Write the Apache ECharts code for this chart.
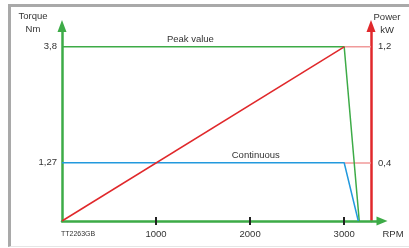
<!DOCTYPE html>
<html>
<head>
<meta charset="utf-8">
<script src="https://cdn.jsdelivr.net/npm/echarts@6/dist/echarts.min.js"></script>
<style>
html,body{margin:0;padding:0;background:#fff;}
#frame{position:absolute;left:8px;top:4px;width:401px;height:243px;border-left:3px solid #a9a9a9;border-top:3px solid #a9a9a9;border-bottom:1px solid #e6e6e6;box-sizing:border-box;}
#c{position:absolute;left:0;top:0;width:409px;height:248px;}
</style>
</head>
<body>
<div id="frame"></div>
<div id="c"></div>
<script>
// Data
const rpmTicks = [1000, 2000, 3000];
const torqueTicks = [1.27, 3.8];
const powerTicks = [0.4, 1.2];
const peakTorque = [[0, 3.8], [3000, 3.8], [3160, 0]];
const contTorque = [[0, 1.27], [3000, 1.27], [3150, 0]];
const powerLine = [[0, 0], [3000, 1.2]];
const powerRefPeak = [[3000, 1.2], [3285, 1.2]];
const powerRefCont = [[3000, 0.4], [3285, 0.4]];
const powerAxisRpm = 3285;

const GREEN = '#3dab47', RED = '#e0282b', BLUE = '#2299dd', PINK = '#f09a9a', TXT = '#333';
const FONT = 'Liberation Sans, Arial, sans-serif';

const chart = echarts.init(document.getElementById('c'), null, {renderer: 'canvas'});
const xMax = 3402;
const gridRight = 27;
const gridLeft = 62;
const plotW = 409 - gridLeft - gridRight;
const powerOffset = -Math.round((xMax - powerAxisRpm) / xMax * plotW);

const comma = v => String(v).replace('.', ',');

chart.setOption({
  animation: false,
  backgroundColor: 'transparent',
  grid: {left: gridLeft, right: gridRight, top: 26, bottom: 27, containLabel: false},
  xAxis: [{
    type: 'value', min: 0, max: xMax,
    splitLine: {show: false},
    axisLine: {show: true, onZero: false, lineStyle: {color: GREEN, width: 2.5},
      symbol: ['none', 'triangle'], symbolSize: [9, 11]},
    axisTick: {show: true, customValues: rpmTicks, length: 4, lineStyle: {color: '#222', width: 2}},
    axisLabel: {show: true, customValues: rpmTicks, margin: 8, fontSize: 9.5, color: TXT, fontFamily: FONT,
      formatter: v => String(v)}
  }, {
    type: 'value', min: 0, max: xMax, position: 'bottom',
    splitLine: {show: false},
    axisLine: {show: false},
    axisTick: {show: true, inside: true, customValues: rpmTicks, length: 4, lineStyle: {color: '#222', width: 2}},
    axisLabel: {show: false}
  }],
  yAxis: [{
    type: 'value', min: 0, max: 4.252,
    splitLine: {show: false},
    axisLine: {show: true, onZero: false, lineStyle: {color: GREEN, width: 2.5},
      symbol: ['none', 'triangle'], symbolSize: [9, 12]},
    axisTick: {show: false},
    axisLabel: {show: true, customValues: torqueTicks, margin: 5, fontSize: 9.5, color: TXT, fontFamily: FONT,
      formatter: comma}
  }, {
    type: 'value', min: 0, max: 1.343, position: 'right', offset: powerOffset,
    splitLine: {show: false},
    axisLine: {show: true, onZero: false, lineStyle: {color: RED, width: 2.5},
      symbol: ['none', 'triangle'], symbolSize: [9, 12]},
    axisTick: {show: false},
    axisLabel: {show: true, customValues: powerTicks, margin: 7, fontSize: 9.5, color: TXT, fontFamily: FONT,
      formatter: comma}
  }],
  series: [
    {name: 'Peak value', type: 'line', data: peakTorque, yAxisIndex: 0, symbol: 'none',
      lineStyle: {color: GREEN, width: 1.5}, z: 3},
    {name: 'Continuous', type: 'line', data: contTorque, yAxisIndex: 0, symbol: 'none',
      lineStyle: {color: BLUE, width: 1.5}, z: 3},
    {name: 'Power', type: 'line', data: powerLine, yAxisIndex: 1, symbol: 'none',
      lineStyle: {color: RED, width: 1.5}, z: 4},
    {name: 'ref1', type: 'line', data: powerRefPeak, yAxisIndex: 1, symbol: 'none',
      lineStyle: {color: PINK, width: 1.5}, z: 2},
    {name: 'ref2', type: 'line', data: powerRefCont, yAxisIndex: 1, symbol: 'none',
      lineStyle: {color: PINK, width: 1.5}, z: 2}
  ]
});

const pPeak = chart.convertToPixel({xAxisIndex: 0, yAxisIndex: 0}, [1365, 3.8]);
const pCont = chart.convertToPixel({xAxisIndex: 0, yAxisIndex: 0}, [2060, 1.27]);
const txt = (x, y, s, size, align) => ({type: 'text', x: x, y: y, style: {text: s, fill: TXT, fontSize: size,
  fontFamily: FONT, align: align || 'center', verticalAlign: 'middle', lineHeight: 13}});
chart.setOption({
  graphic: [
    txt(33, 23, 'Torque\nNm', 9.5),
    txt(387, 24, 'Power\nkW', 9.5),
    txt(393, 234, 'RPM', 9.5),
    txt(61, 234, 'TT2263GB', 7, 'left'),
    txt(pPeak[0], pPeak[1] - 7, 'Peak value', 9.5),
    txt(pCont[0], pCont[1] - 7, 'Continuous', 9.5)
  ]
});
</script>
</body>
</html>
